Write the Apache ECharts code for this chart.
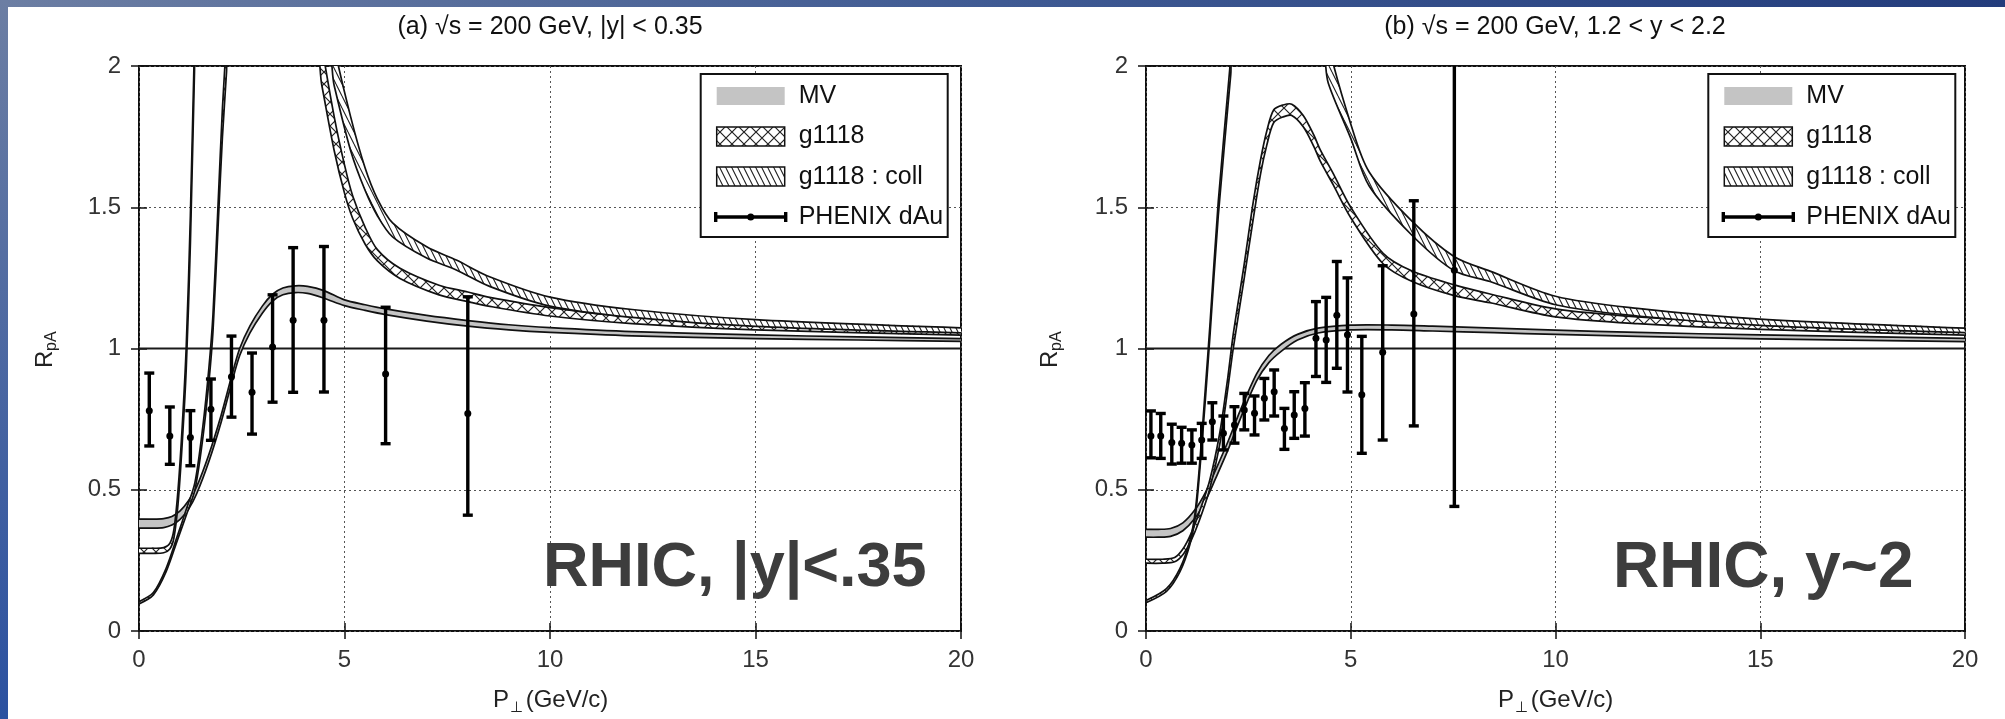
<!DOCTYPE html>
<html><head><meta charset="utf-8">
<script src="https://cdn.jsdelivr.net/npm/echarts@6/dist/echarts.min.js"></script>
<style>html,body{margin:0;padding:0;background:#fff;}#c{width:2005px;height:719px;}</style>
</head><body><div id="c"></div>
<script>
// ================= DATA =================
const xTickStep = 5, yTickStep = 0.5;
const panelTitles = ['(a) \u221As = 200 GeV, |y| < 0.35', '(b) \u221As = 200 GeV, 1.2 < y < 2.2'];
const panelTags = ['RHIC, |y|<.35', 'RHIC, y~2'];
const legendNames = ['MV', 'g1118', 'g1118 : coll', 'PHENIX dAu'];
const unityX = [0, 20], unityY = [1, 1];

// Panel (a): MV band
const mvA_p  = [0,0.3,0.6,0.8,1.0,1.2,1.4,1.7,2.0,2.25,2.45,2.7,3.0,3.25,3.5,3.8,4.1,4.5,5.0,5.5,6.0,7.0,8.0,9.0,10,12,15,17.5,20];
const mvA_lo = [0.364,0.364,0.366,0.375,0.395,0.43,0.485,0.60,0.74,0.875,0.975,1.055,1.125,1.168,1.19,1.198,1.195,1.178,1.152,1.135,1.12,1.097,1.079,1.066,1.057,1.045,1.035,1.03,1.025];
const mvA_hi = [0.396,0.396,0.398,0.405,0.425,0.46,0.51,0.625,0.765,0.9,1.0,1.08,1.15,1.192,1.214,1.222,1.22,1.205,1.172,1.155,1.14,1.117,1.099,1.084,1.074,1.06,1.048,1.041,1.035];
// Panel (a): g1118 band
const gA_p  = [0,0.3,0.6,0.75,0.85,0.95,1.05,1.15,1.25,1.35,1.45,4.2,4.45,4.75,5.0,5.2,5.5,5.8,6.35,7.3,8.0,8.5,10,12,15,20];
const gA_lo = [0.275,0.275,0.277,0.29,0.33,0.45,0.66,0.93,1.37,1.98,2.5,2.12,1.93,1.70,1.55,1.46,1.37,1.31,1.248,1.19,1.166,1.15,1.115,1.088,1.066,1.047];
const gA_hi = [0.293,0.293,0.295,0.31,0.36,0.5,0.72,1.01,1.47,2.08,2.6,2.3,2.07,1.82,1.65,1.54,1.43,1.35,1.284,1.224,1.2,1.182,1.145,1.112,1.088,1.062];
// Panel (a): g1118 : coll band
const cA_p  = [0,0.35,0.66,0.93,1.15,1.36,1.55,1.7,1.8,1.93,2.03,2.13,2.25,4.5,4.75,5.15,5.5,5.8,6.17,7.0,7.72,8.53,10,12,15,20];
const cA_lo = [0.096,0.128,0.21,0.32,0.41,0.50,0.68,0.88,1.06,1.45,1.75,1.98,2.3,2.1,1.93,1.70,1.56,1.47,1.395,1.32,1.278,1.22,1.15,1.11,1.078,1.055];
const cA_hi = [0.104,0.136,0.222,0.335,0.43,0.525,0.72,0.93,1.12,1.53,1.85,2.1,2.45,2.3,2.07,1.82,1.64,1.53,1.445,1.36,1.313,1.254,1.182,1.138,1.102,1.073];
// Panel (a): PHENIX dAu points
const dA_p   = [0.25,0.75,1.25,1.75,2.25,2.75,3.25,3.75,4.5,6.0,8.0];
const dA_val = [0.78,0.69,0.685,0.785,0.90,0.845,1.005,1.10,1.10,0.91,0.77];
const dA_lo  = [0.655,0.59,0.585,0.675,0.757,0.697,0.81,0.845,0.846,0.663,0.41];
const dA_hi  = [0.913,0.793,0.78,0.892,1.044,0.984,1.19,1.357,1.361,1.146,1.183];

// Panel (b): MV band
const mvB_p  = [0,0.3,0.6,0.9,1.2,1.45,1.7,2.0,2.3,2.7,3.0,3.3,3.7,4.2,5.0,6.0,7.0,8.5,10,12,15,20];
const mvB_lo = [0.332,0.332,0.335,0.355,0.40,0.46,0.54,0.64,0.75,0.885,0.95,0.99,1.03,1.055,1.066,1.066,1.062,1.056,1.05,1.043,1.034,1.024];
const mvB_hi = [0.36,0.36,0.363,0.383,0.43,0.49,0.57,0.67,0.78,0.91,0.975,1.015,1.05,1.072,1.083,1.083,1.079,1.072,1.065,1.057,1.048,1.036];
// Panel (b): g1118 band
const gB_p  = [0,0.4,0.7,0.9,1.1,1.3,1.55,1.8,2.0,2.13,2.4,2.62,2.8,2.95,3.12,3.35,3.56,3.84,4.1,4.25,4.57,5.0,5.79,6.5,7.53,8.4,10,12,15,20];
const gB_lo = [0.24,0.24,0.245,0.27,0.32,0.39,0.50,0.66,0.86,1.0,1.25,1.46,1.62,1.72,1.80,1.82,1.825,1.785,1.715,1.665,1.58,1.463,1.30,1.237,1.187,1.162,1.112,1.088,1.068,1.047];
const gB_hi = [0.254,0.254,0.26,0.29,0.345,0.42,0.53,0.70,0.9,1.05,1.30,1.52,1.67,1.77,1.845,1.862,1.865,1.825,1.755,1.705,1.62,1.5,1.337,1.274,1.225,1.193,1.14,1.112,1.088,1.063];
// Panel (b): g1118 : coll band
const cB_p  = [0,0.5,0.83,1.07,1.2,1.32,1.45,1.56,1.765,2.07,2.2,4.2,4.45,5.0,5.45,6.5,7.53,8.4,10,12,15,20];
const cB_lo = [0.1,0.14,0.21,0.305,0.4,0.58,0.82,1.04,1.47,1.97,2.2,2.1,1.94,1.744,1.575,1.40,1.275,1.237,1.155,1.115,1.082,1.056];
const cB_hi = [0.108,0.15,0.222,0.32,0.42,0.61,0.86,1.08,1.52,2.03,2.28,2.3,2.08,1.795,1.625,1.45,1.325,1.274,1.185,1.142,1.104,1.072];
// Panel (b): PHENIX dAu points
const dB_p   = [0.12,0.36,0.63,0.87,1.12,1.36,1.62,1.89,2.16,2.40,2.65,2.89,3.13,3.38,3.62,3.88,4.15,4.40,4.66,4.92,5.27,5.78,6.54,7.53];
const dB_val = [0.690,0.690,0.667,0.665,0.658,0.676,0.741,0.700,0.729,0.782,0.771,0.824,0.847,0.717,0.765,0.788,1.036,1.030,1.118,1.049,0.836,0.987,1.122,1.277];
const dB_lo  = [0.613,0.611,0.591,0.594,0.594,0.611,0.676,0.641,0.665,0.712,0.694,0.747,0.761,0.643,0.682,0.690,0.901,0.880,0.930,0.846,0.629,0.676,0.726,0.441];
const dB_hi  = [0.779,0.770,0.732,0.721,0.712,0.735,0.808,0.761,0.794,0.841,0.832,0.894,0.924,0.788,0.847,0.879,1.166,1.181,1.308,1.250,1.043,1.293,1.523,2.1];

// ================= STYLE =================
const FF = '"Liberation Sans", Helvetica, Arial, sans-serif';
function makeCross(){const s=12,c=document.createElement('canvas');c.width=s;c.height=s;const g=c.getContext('2d');g.fillStyle='#fff';g.fillRect(0,0,s,s);g.strokeStyle='#222';g.lineWidth=1.2;g.beginPath();g.moveTo(0,0);g.lineTo(s,s);g.moveTo(s,0);g.lineTo(0,s);g.stroke();return c;}
function makeDiag(){const w=6,h=12,c=document.createElement('canvas');c.width=w;c.height=h;const g=c.getContext('2d');g.fillStyle='#fff';g.fillRect(0,0,w,h);g.strokeStyle='#222';g.lineWidth=1.1;g.beginPath();for(const dx of [-w,0,w]){g.moveTo(dx,0);g.lineTo(dx+w,h);}g.stroke();return c;}
const FILL_MV = '#c4c4c4';
const FILL_CROSS = {image: makeCross(), repeat: 'repeat'};
const FILL_DIAG = {image: makeDiag(), repeat: 'repeat'};
const SMOOTH = 0.3;

const grids = [
  {left:139, top:66, width:822, height:565},
  {left:1146, top:66, width:819, height:565}
];

function clipOf(cs){return {type:'rect', shape:{x:cs.x, y:cs.y, width:cs.width, height:cs.height}};}
function bandRender(P, LO, HI, fill){
  return function(params, api){
    const cs = params.coordSys;
    const hi = P.map((x,i)=>api.coord([x, HI[i]]));
    const lo = P.map((x,i)=>api.coord([x, LO[i]]));
    const ls = {stroke:'#111', lineWidth:1.7, fill:null};
    return {type:'group', clipPath: clipOf(cs), children:[
      {type:'polygon', shape:{points: hi.concat(lo.slice().reverse()), smooth:SMOOTH}, style:{fill: fill, stroke:null}},
      {type:'polyline', shape:{points: hi, smooth:SMOOTH}, style: ls},
      {type:'polyline', shape:{points: lo, smooth:SMOOTH}, style: ls}
    ]};
  };
}
function errRender(params, api){
  const cs = params.coordSys;
  const p = api.value(0);
  const c = api.coord([p, api.value(1)]), a = api.coord([p, api.value(2)]), b = api.coord([p, api.value(3)]);
  const st = {stroke:'#000', lineWidth:3.4};
  return {type:'group', clipPath: clipOf(cs), children:[
    {type:'line', shape:{x1:a[0], y1:a[1], x2:b[0], y2:b[1]}, style: st},
    {type:'line', shape:{x1:a[0]-5, y1:a[1], x2:a[0]+5, y2:a[1]}, style: st},
    {type:'line', shape:{x1:b[0]-5, y1:b[1], x2:b[0]+5, y2:b[1]}, style: st},
    {type:'circle', shape:{cx:c[0], cy:c[1], r:3.5}, style:{fill:'#000'}}
  ]};
}

const xAxes = [], yAxes = [], series = [];
const panels = [
  {mv:[mvA_p,mvA_lo,mvA_hi], g:[gA_p,gA_lo,gA_hi], c:[cA_p,cA_lo,cA_hi], d:[dA_p,dA_val,dA_lo,dA_hi]},
  {mv:[mvB_p,mvB_lo,mvB_hi], g:[gB_p,gB_lo,gB_hi], c:[cB_p,cB_lo,cB_hi], d:[dB_p,dB_val,dB_lo,dB_hi]}
];
panels.forEach((pn, i) => {
  const tick = {show:true, inside:true, length:8, lineStyle:{color:'#111', width:1.5}};
  xAxes.push({gridIndex:i, type:'value', min:0, max:20, interval:xTickStep, position:'bottom',
    axisLine:{show:false}, axisTick:tick,
    axisLabel:{fontSize:24, color:'#333', margin:17, fontFamily:FF},
    splitLine:{show:true, lineStyle:{type:[2,3], color:'#555', width:1}}});
  xAxes.push({gridIndex:i, type:'value', min:0, max:20, interval:xTickStep, position:'top',
    axisLine:{show:false}, axisTick:tick, axisLabel:{show:false}, splitLine:{show:false}});
  yAxes.push({gridIndex:i, type:'value', min:0, max:2, interval:yTickStep, position:'left',
    axisLine:{show:false}, axisTick:tick,
    axisLabel:{fontSize:24, color:'#333', margin:18, fontFamily:FF},
    splitLine:{show:true, lineStyle:{type:[2,3], color:'#555', width:1}}});
  yAxes.push({gridIndex:i, type:'value', min:0, max:2, interval:yTickStep, position:'right',
    axisLine:{show:false}, axisTick:tick, axisLabel:{show:false}, splitLine:{show:false}});
  const xi = 2*i, yi = 2*i;
  series.push({type:'line', xAxisIndex:xi, yAxisIndex:yi, data: unityX.map((x,k)=>[x, unityY[k]]),
    symbol:'none', lineStyle:{color:'#1a1a1a', width:1.8}, z:2, silent:true});
  [[pn.mv, FILL_MV],[pn.g, FILL_CROSS],[pn.c, FILL_DIAG]].forEach(([b, fill]) => {
    series.push({type:'custom', coordinateSystem:'cartesian2d', xAxisIndex:xi, yAxisIndex:yi,
      data:[[0,0]], renderItem: bandRender(b[0], b[1], b[2], fill), z:3, silent:true});
  });
  series.push({type:'custom', coordinateSystem:'cartesian2d', xAxisIndex:xi, yAxisIndex:yi,
    data: pn.d[0].map((p,k)=>[p, pn.d[1][k], pn.d[2][k], pn.d[3][k]]),
    encode:{x:0, y:[1,2,3]}, renderItem: errRender, z:4, silent:true});
});

// ================= GRAPHIC (titles, labels, legends) =================
function txt(x, y, text, size, opts){
  return Object.assign({type:'text', x:x, y:y, silent:true, z:100,
    style:Object.assign({text:text, font: size+'px '+FF, fill:'#1a1a1a', align:'center', verticalAlign:'middle',
      textAlign:'center', textVerticalAlign:'middle'}, opts||{})});
}
function legend(x0){
  const els = [];
  els.push({type:'rect', shape:{x:x0, y:74, width:247, height:163}, style:{fill:'#fff', stroke:'#111', lineWidth:2}, z:100, silent:true});
  const sx = x0+16, sw = 68;
  els.push({type:'rect', shape:{x:sx, y:87, width:sw, height:18}, style:{fill:FILL_MV}, z:101, silent:true});
  els.push({type:'rect', shape:{x:sx, y:127, width:sw, height:19}, style:{fill:FILL_CROSS, stroke:'#111', lineWidth:1.5}, z:101, silent:true});
  els.push({type:'rect', shape:{x:sx, y:167, width:sw, height:19}, style:{fill:FILL_DIAG, stroke:'#111', lineWidth:1.5}, z:101, silent:true});
  const ly = 217;
  els.push({type:'line', shape:{x1:sx-1, y1:ly, x2:sx+sw+1, y2:ly}, style:{stroke:'#000', lineWidth:3.4}, z:101, silent:true});
  [sx-1, sx+sw+1].forEach(cx => els.push({type:'line', shape:{x1:cx, y1:ly-5, x2:cx, y2:ly+5}, style:{stroke:'#000', lineWidth:3.4}, z:101, silent:true}));
  els.push({type:'circle', shape:{cx:sx+sw/2, cy:ly, r:3.5}, style:{fill:'#000'}, z:101, silent:true});
  [96, 136, 177, 217].forEach((y, k) => els.push(txt(x0+98, y, legendNames[k], 25, {align:'left', textAlign:'left', fill:'#111'})));
  return els;
}
function axisNames(cx, ry){
  return [
    txt(cx-57, 700, 'P', 24, {align:'left', textAlign:'left', fill:'#222'}),
    txt(cx-40, 708, '\u22A5', 15, {align:'left', textAlign:'left', fill:'#222'}),
    txt(cx-31, 700, ' (GeV/c)', 24, {align:'left', textAlign:'left', fill:'#222'}),
    {type:'group', x: ry, y: 348, rotation: Math.PI/2, silent:true, children:[
      txt(-20, 0, 'R', 24, {align:'left', textAlign:'left', fill:'#222'}),
      txt(-3, 7, 'pA', 16, {align:'left', textAlign:'left', fill:'#222'})
    ]}
  ];
}
const graphic = [
  {type:'rect', shape:{x:0, y:0, width:2005, height:7}, z:200, silent:true,
    style:{fill:new echarts.graphic.LinearGradient(0,0,1,0,[{offset:0,color:'#6c7ea3'},{offset:0.5,color:'#3f5a93'},{offset:1,color:'#233c7c'}])}},
  {type:'rect', shape:{x:0, y:0, width:8, height:719}, z:200, silent:true,
    style:{fill:new echarts.graphic.LinearGradient(0,0,0,1,[{offset:0,color:'#6c7ea3'},{offset:1,color:'#2b51a0'}])}},
  txt(550, 27, panelTitles[0], 25, {fill:'#111'}),
  txt(1555, 27, panelTitles[1], 25, {fill:'#111'}),
  txt(543, 569, panelTags[0], 63, {font:'bold 63px '+FF, fill:'#3d3d3d', align:'left', textAlign:'left'}),
  txt(1613, 569, panelTags[1], 64, {font:'bold 64px '+FF, fill:'#3d3d3d', align:'left', textAlign:'left'}),
  ...axisNames(550, 45),
  ...axisNames(1555, 1050),
  ...legend(700.7),
  ...legend(1708.3)
];

const chart = echarts.init(document.getElementById('c'), null, {renderer:'canvas'});
chart.setOption({
  animation:false,
  backgroundColor:'#fff',
  textStyle:{fontFamily:FF},
  grid: grids.map(g => Object.assign({show:true, borderColor:'#111', borderWidth:2, backgroundColor:'#fff', containLabel:false}, g)),
  xAxis: xAxes,
  yAxis: yAxes,
  series: series,
  graphic: graphic
});
</script></body></html>
